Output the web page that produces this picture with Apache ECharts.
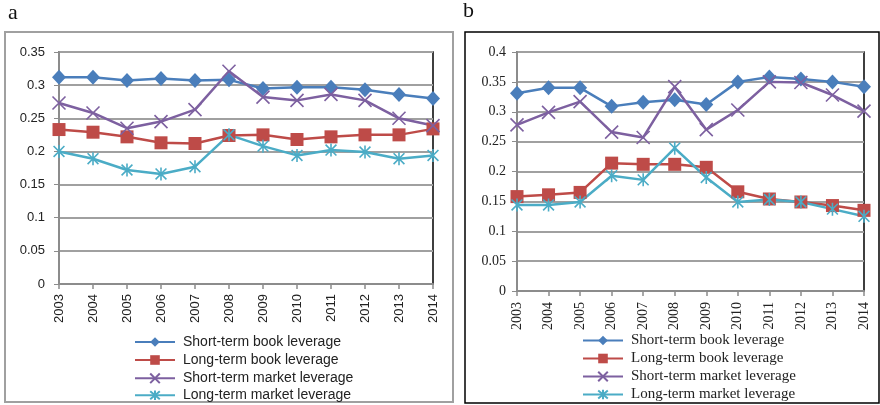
<!DOCTYPE html>
<html>
<head>
<meta charset="utf-8">
<script src="https://cdn.jsdelivr.net/npm/echarts@6/dist/echarts.min.js"></script>
<style>
  html, body { margin: 0; padding: 0; background: #fff; }
  #main { width: 880px; height: 405px; }
</style>
</head>
<body>
<div id="main"></div>
<script>
// years on the x axis (both panels)
var years = ['2003', '2004', '2005', '2006', '2007', '2008', '2009', '2010', '2011', '2012', '2013', '2014'];
var seriesNames = ['Short-term book leverage', 'Long-term book leverage', 'Short-term market leverage', 'Long-term market leverage'];

// panel a
var aShortBook  = [0.312, 0.312, 0.307, 0.310, 0.307, 0.308, 0.295, 0.297, 0.297, 0.293, 0.286, 0.280];
var aLongBook   = [0.233, 0.229, 0.222, 0.213, 0.212, 0.224, 0.225, 0.218, 0.222, 0.225, 0.225, 0.234];
var aShortMkt   = [0.273, 0.258, 0.235, 0.245, 0.263, 0.321, 0.282, 0.277, 0.286, 0.277, 0.250, 0.239];
var aLongMkt    = [0.200, 0.189, 0.172, 0.166, 0.177, 0.225, 0.208, 0.194, 0.202, 0.199, 0.189, 0.194];

// panel b
var bShortBook  = [0.331, 0.340, 0.340, 0.309, 0.316, 0.320, 0.312, 0.350, 0.358, 0.355, 0.350, 0.342];
var bLongBook   = [0.158, 0.161, 0.165, 0.214, 0.212, 0.212, 0.207, 0.166, 0.154, 0.149, 0.143, 0.135];
var bShortMkt   = [0.278, 0.299, 0.317, 0.266, 0.257, 0.342, 0.270, 0.303, 0.350, 0.349, 0.328, 0.301];
var bLongMkt    = [0.144, 0.144, 0.149, 0.193, 0.186, 0.239, 0.190, 0.149, 0.153, 0.149, 0.137, 0.125];

var colors = ['#4A7EBB', '#BE4B48', '#7D60A0', '#4BACC6'];
var crossPath = 'path://M0,0L10,10M10,0L0,10';
var starPath = 'path://M0,0L10,10M10,0L0,10M5,-1L5,11';

var sansFont = '"Liberation Sans", "DejaVu Sans", sans-serif';
var serifFont = '"Liberation Serif", "DejaVu Serif", serif';

function makeSeries(name, data, idx, gi) {
    var s = {
        name: name,
        type: 'line',
        xAxisIndex: gi,
        yAxisIndex: gi,
        data: data,
        lineStyle: { color: colors[idx], width: 2.5 },
        itemStyle: { color: colors[idx] },
        symbolKeepAspect: true
    };
    if (idx === 0) { s.symbol = 'diamond'; s.symbolSize = [14, 15]; }
    if (idx === 1) { s.symbol = 'rect'; s.symbolSize = 13; }
    if (idx === 2 || idx === 3) {
        s.symbol = idx === 2 ? crossPath : starPath;
        s.symbolSize = 13;
        s.itemStyle = { color: 'none', borderColor: colors[idx], borderWidth: 1.6 };
    }
    return s;
}

function makeX(gi, font, size, margin) {
    return {
        type: 'category',
        gridIndex: gi,
        data: years,
        boundaryGap: false,
        axisLine: { lineStyle: { color: '#8c8c8c', width: 2 } },
        axisTick: { show: true, length: 5, lineStyle: { color: '#8c8c8c', width: 1.5 } },
        axisLabel: { rotate: 90, fontFamily: font, fontSize: size, color: '#222', margin: margin },
        splitLine: { show: false }
    };
}

function makeY(gi, max, font, size, margin) {
    return {
        type: 'value',
        gridIndex: gi,
        min: 0,
        max: max,
        interval: 0.05,
        axisLine: { show: true, lineStyle: { color: '#8c8c8c', width: 2 } },
        axisTick: { show: true, length: 5, inside: false, lineStyle: { color: '#8c8c8c' } },
        axisLabel: { fontFamily: font, fontSize: size, color: '#222', margin: margin },
        splitLine: { show: true, lineStyle: { color: '#a0a0a0', width: 2 } }
    };
}

// one legend entry per row so the rows sit where they are in the figure
function makeLegend(name, left, top, font, size) {
    return {
        data: [name], left: left, top: top, padding: 0,
        itemWidth: 40, itemHeight: 12, itemGap: 0,
        textStyle: { fontFamily: font, fontSize: size, color: '#222', padding: [0, 0, 0, 3] }
    };
}

var series = [];
[aShortBook, aLongBook, aShortMkt, aLongMkt].forEach(function(d, i){ series.push(makeSeries(seriesNames[i], d, i, 0)); });
[bShortBook, bLongBook, bShortMkt, bLongMkt].forEach(function(d, i){ series.push(makeSeries(seriesNames[i], d, i, 1)); });

var legends = [];
var aRows = [335, 353, 371, 388];
var bRows = [333, 351, 369, 387];
seriesNames.forEach(function(n, i){ legends.push(makeLegend(n, 134, aRows[i], sansFont, 14)); });
seriesNames.forEach(function(n, i){ legends.push(makeLegend(n, 582, bRows[i], serifFont, 15)); });

var option = {
    animation: false,
    backgroundColor: '#fff',
    grid: [
        { left: 59, top: 52, width: 374, height: 232, show: true, borderColor: '#000', borderWidth: 1.5, containLabel: false },
        { left: 517, top: 52, width: 347, height: 239, show: true, borderColor: '#000', borderWidth: 1.5, containLabel: false }
    ],
    xAxis: [makeX(0, sansFont, 13, 10), makeX(1, serifFont, 14, 11)],
    yAxis: [makeY(0, 0.35, sansFont, 13, 14), makeY(1, 0.4, serifFont, 14, 11)],
    legend: legends,
    graphic: [
        { type: 'rect', shape: { x: 5, y: 32, width: 448, height: 370 }, style: { fill: 'none', stroke: '#a0a0a0', lineWidth: 2 }, z: -1 },
        { type: 'rect', shape: { x: 465, y: 32, width: 414, height: 371 }, style: { fill: 'none', stroke: '#000', lineWidth: 1.5 }, z: -1 },
        { type: 'text', left: 8, top: 2, style: { text: 'a', font: '22px ' + serifFont, fill: '#111' } },
        { type: 'text', left: 463, top: 0, style: { text: 'b', font: '22px ' + serifFont, fill: '#111' } }
    ],
    series: series
};

var chart = echarts.init(document.getElementById('main'));
chart.setOption(option);
</script>
</body>
</html>
